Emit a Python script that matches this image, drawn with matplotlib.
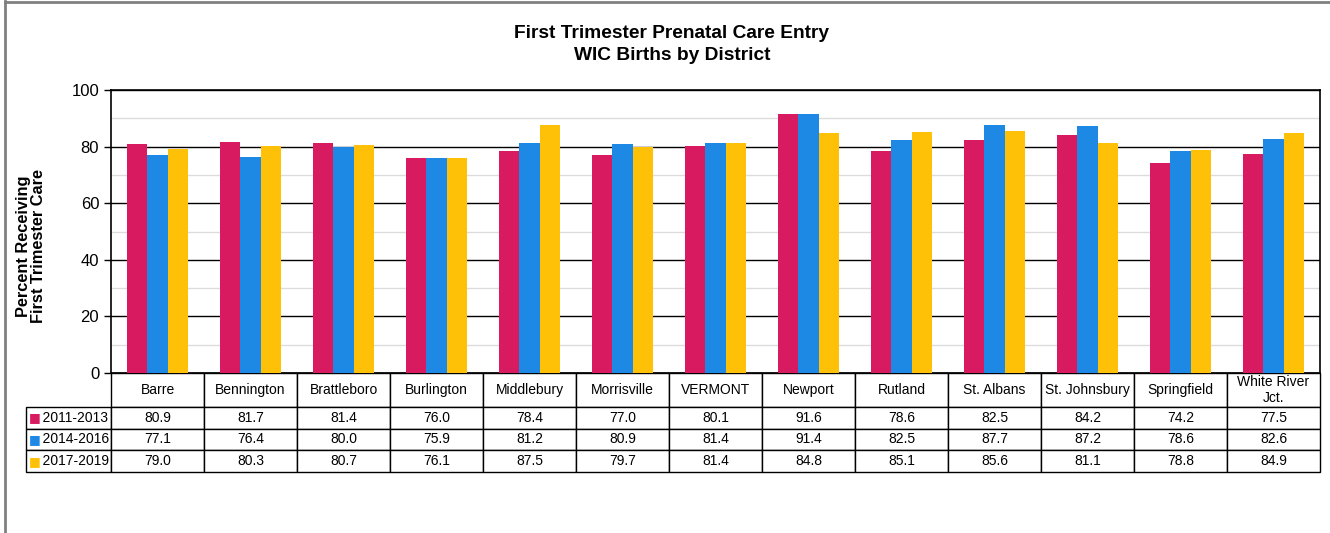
import numpy as np
import matplotlib.pyplot as plt
from matplotlib.lines import Line2D

plt.rcParams['font.family'] = ['Liberation Sans', 'DejaVu Sans']

# Data
districts = ['Barre', 'Bennington', 'Brattleboro', 'Burlington', 'Middlebury',
             'Morrisville', 'VERMONT', 'Newport', 'Rutland', 'St. Albans',
             'St. Johnsbury', 'Springfield', 'White River\nJct.']
periods = ['2011-2013', '2014-2016', '2017-2019']
vals_2011_2013 = [80.9, 81.7, 81.4, 76.0, 78.4, 77.0, 80.1, 91.6, 78.6, 82.5, 84.2, 74.2, 77.5]
vals_2014_2016 = [77.1, 76.4, 80.0, 75.9, 81.2, 80.9, 81.4, 91.4, 82.5, 87.7, 87.2, 78.6, 82.6]
vals_2017_2019 = [79.0, 80.3, 80.7, 76.1, 87.5, 79.7, 81.4, 84.8, 85.1, 85.6, 81.1, 78.8, 84.9]
colors = ['#D81B60', '#1E88E5', '#FFC107']

series = [vals_2011_2013, vals_2014_2016, vals_2017_2019]

W, H = 1330, 533
fig = plt.figure(figsize=(W / 100, H / 100), dpi=100)

# axes box in pixels
ax_l, ax_r, ax_t, ax_b = 111, 1320, 90, 373
ax = fig.add_axes([ax_l / W, 1 - ax_b / H, (ax_r - ax_l) / W, (ax_b - ax_t) / H])

x = np.arange(len(districts))
bw = 0.222
for i, (vals, c) in enumerate(zip(series, colors)):
    ax.bar(x + (i - 1) * bw, vals, bw, color=c, zorder=3)

ax.set_xlim(-0.5, len(districts) - 0.5)
ax.set_ylim(0, 100)
ax.set_yticks(np.arange(0, 101, 20))
ax.set_yticks(np.arange(10, 100, 20), minor=True)
ax.grid(axis='y', which='major', color='#000000', linewidth=1.0, zorder=0)
ax.grid(axis='y', which='minor', color='#dcdcdc', linewidth=1.0, zorder=0)
ax.tick_params(axis='y', which='major', labelsize=12, length=5, width=1, direction='out')
ax.tick_params(axis='y', which='minor', length=0)
ax.set_xticks([])
for s in ['left', 'bottom', 'top', 'right']:
    ax.spines[s].set_color('black')
    ax.spines[s].set_linewidth(1.2)

fig.text(31 / W, 1 - 246 / H, 'Percent Receiving\nFirst Trimester Care',
         rotation=90, ha='center', va='center', fontsize=11.8,
         fontweight='bold', linespacing=1.0)

# data table
cell_text = [[f'{v:.1f}' for v in vals] for vals in series]
tbl_h = (472 - 373) / (ax_b - ax_t)
row_lbl_w = (ax_l - 26) / (ax_r - ax_l)
tbl = ax.table(cellText=cell_text, rowLabels=['    ' + p for p in periods],
               colLabels=districts, cellLoc='center', rowLoc='left',
               bbox=[0, -tbl_h, 1, tbl_h])
tbl._autoColumns = []
tbl.auto_set_font_size(False)
tbl.set_fontsize(10)
cells = tbl.get_celld()
base_h = cells[(1, 0)].get_height()
for (r, c), cell in cells.items():
    cell.set_linewidth(1.0)
    cell.set_edgecolor('black')
    if r == 0:
        cell.set_height(base_h * 34 / 21.7)
    if c == -1:
        cell.set_width(row_lbl_w)
        cell.get_text().set_ha('left')
        cell.PAD = 0.012

# legend keys in the row label cells
row_h = 21.7
for i, c in enumerate(colors):
    yc = 373 + 34 + row_h * (i + 0.5)
    fig.text(29 / W, 1 - yc / H, '\u25A0', color=c, fontsize=9,
             va='center', ha='left', family='DejaVu Sans')

fig.text(672 / W, 1 - 33 / H, 'First Trimester Prenatal Care Entry',
         ha='center', va='center', fontsize=13.8, fontweight='bold')
fig.text(672 / W, 1 - 56 / H, 'WIC Births by District',
         ha='center', va='center', fontsize=13.8, fontweight='bold')

# outer chart border (left and top)
fig.add_artist(Line2D([5 / W, 5 / W], [0, 1 - 1 / H], color='#808080', linewidth=2))
fig.add_artist(Line2D([5 / W, 1], [1 - 1.5 / H, 1 - 1.5 / H], color='#808080', linewidth=2))

fig.savefig('out.png', dpi=100)
